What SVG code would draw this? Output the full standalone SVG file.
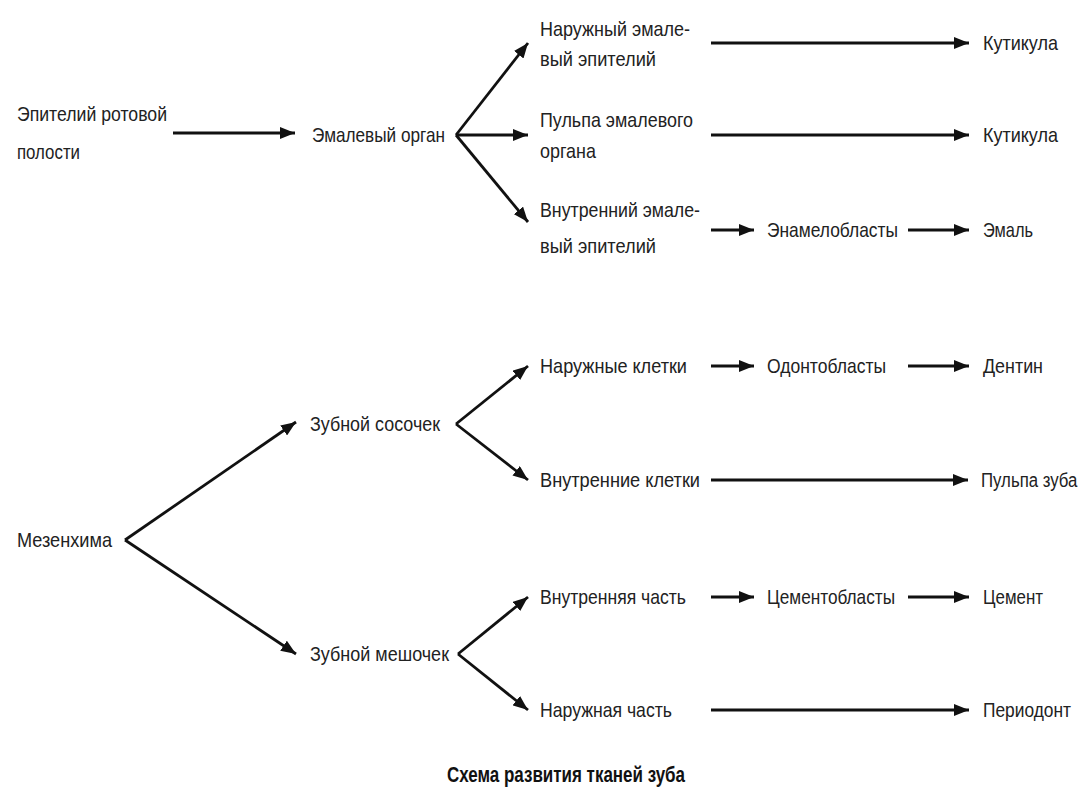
<svg xmlns="http://www.w3.org/2000/svg" width="1091" height="801" viewBox="0 0 1091 801">
<style>
text{font-family:"Liberation Sans",Arial,sans-serif;font-size:21px;fill:#222}
.cap{font-weight:bold;fill:#111;font-size:22px}
.c line{stroke:#111;stroke-width:2.8;marker-end:url(#ah)}
</style>
<defs>
<marker id="ah" markerUnits="userSpaceOnUse" markerWidth="16" markerHeight="12" refX="15" refY="6" orient="auto"><path d="M0,0 L15,6 L0,12 z" fill="#111"/></marker>
</defs>
<rect width="1091" height="801" fill="#fff"/>
<g class="c" id="connectors">
<line x1="173" y1="133" x2="295" y2="133"/>
<line x1="456" y1="135" x2="528" y2="43"/>
<line x1="456" y1="135" x2="528" y2="135"/>
<line x1="456" y1="135" x2="528" y2="222"/>
<line x1="711" y1="43" x2="969" y2="43"/>
<line x1="711" y1="135" x2="969" y2="135"/>
<line x1="711" y1="230" x2="754" y2="230"/>
<line x1="908" y1="230" x2="969" y2="230"/>
<line x1="125" y1="540" x2="296" y2="422"/>
<line x1="125" y1="540" x2="296" y2="654"/>
<line x1="456" y1="424" x2="528" y2="366"/>
<line x1="456" y1="424" x2="528" y2="480"/>
<line x1="711" y1="366" x2="754" y2="366"/>
<line x1="908" y1="366" x2="969" y2="366"/>
<line x1="711" y1="480" x2="968" y2="480"/>
<line x1="458" y1="654" x2="528" y2="597"/>
<line x1="458" y1="654" x2="528" y2="710"/>
<line x1="711" y1="597" x2="754" y2="597"/>
<line x1="908" y1="597" x2="969" y2="597"/>
<line x1="711" y1="710" x2="969" y2="710"/>
</g>
<g id="n-epith"><text x="17" y="121" textLength="150" lengthAdjust="spacingAndGlyphs">Эпителий ротовой</text><text x="17" y="159" textLength="63" lengthAdjust="spacingAndGlyphs">полости</text></g>
<g id="n-organ"><text x="312" y="142" textLength="133" lengthAdjust="spacingAndGlyphs">Эмалевый орган</text></g>
<g id="n-outer"><text x="540" y="36" textLength="150" lengthAdjust="spacingAndGlyphs">Наружный эмале-</text><text x="540" y="66" textLength="116" lengthAdjust="spacingAndGlyphs">вый эпителий</text></g>
<g id="n-pulp"><text x="540" y="127" textLength="153" lengthAdjust="spacingAndGlyphs">Пульпа эмалевого</text><text x="540" y="158" textLength="56" lengthAdjust="spacingAndGlyphs">органа</text></g>
<g id="n-inner"><text x="540" y="217" textLength="160" lengthAdjust="spacingAndGlyphs">Внутренний эмале-</text><text x="540" y="253" textLength="116" lengthAdjust="spacingAndGlyphs">вый эпителий</text></g>
<g id="n-cut1"><text x="983" y="50" textLength="75" lengthAdjust="spacingAndGlyphs">Кутикула</text></g>
<g id="n-cut2"><text x="983" y="142" textLength="75" lengthAdjust="spacingAndGlyphs">Кутикула</text></g>
<g id="n-enam"><text x="767" y="237" textLength="131" lengthAdjust="spacingAndGlyphs">Энамелобласты</text></g>
<g id="n-email"><text x="983" y="237" textLength="50" lengthAdjust="spacingAndGlyphs">Эмаль</text></g>
<g id="n-mes"><text x="17" y="547" textLength="95" lengthAdjust="spacingAndGlyphs">Мезенхима</text></g>
<g id="n-pap"><text x="310" y="431" textLength="130" lengthAdjust="spacingAndGlyphs">Зубной сосочек</text></g>
<g id="n-sac"><text x="310" y="661" textLength="139" lengthAdjust="spacingAndGlyphs">Зубной мешочек</text></g>
<g id="n-outc"><text x="540" y="373" textLength="147" lengthAdjust="spacingAndGlyphs">Наружные клетки</text></g>
<g id="n-odo"><text x="767" y="373" textLength="119" lengthAdjust="spacingAndGlyphs">Одонтобласты</text></g>
<g id="n-dent"><text x="983" y="373" textLength="60" lengthAdjust="spacingAndGlyphs">Дентин</text></g>
<g id="n-inc"><text x="540" y="487" textLength="160" lengthAdjust="spacingAndGlyphs">Внутренние клетки</text></g>
<g id="n-pz"><text transform="translate(981,487) scale(0.8,1)">Пульпа зуба</text></g>
<g id="n-inp"><text x="540" y="604" textLength="146" lengthAdjust="spacingAndGlyphs">Внутренняя часть</text></g>
<g id="n-cem"><text x="767" y="604" textLength="128" lengthAdjust="spacingAndGlyphs">Цементобласты</text></g>
<g id="n-cement"><text x="983" y="604" textLength="60" lengthAdjust="spacingAndGlyphs">Цемент</text></g>
<g id="n-outp"><text x="540" y="717" textLength="132" lengthAdjust="spacingAndGlyphs">Наружная часть</text></g>
<g id="n-perio"><text x="983" y="717" textLength="88" lengthAdjust="spacingAndGlyphs">Периодонт</text></g>
<g id="caption"><text class="cap" x="447" y="782" textLength="238" lengthAdjust="spacingAndGlyphs">Схема развития тканей зуба</text></g>
</svg>
